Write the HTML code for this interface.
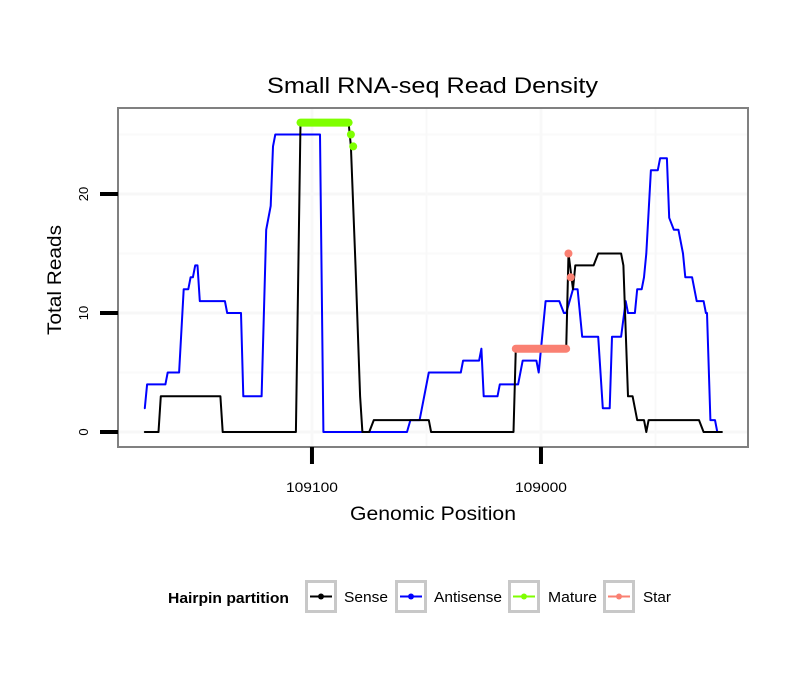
<!DOCTYPE html>
<html><head><meta charset="utf-8"><style>
body{margin:0;background:#fff;font-family:"Liberation Sans",sans-serif}
svg text{font-family:"Liberation Sans",sans-serif}
</style></head><body>
<svg id="chart" width="810" height="690">
<text x="267" y="93" font-size="22" textLength="331" lengthAdjust="spacingAndGlyphs">Small RNA-seq Read Density</text>
<rect x="118" y="108" width="630" height="339" fill="#fff"/>
<g id="grid"></g>
<g id="series"></g>
<rect x="118" y="108" width="630" height="339" fill="none" stroke="#808080" stroke-width="2"/>
<g id="axes"></g>
<text x="350" y="520" font-size="19" textLength="166" lengthAdjust="spacingAndGlyphs">Genomic Position</text>
<text transform="translate(61,335) rotate(-90)" font-size="19" textLength="110" lengthAdjust="spacingAndGlyphs">Total Reads</text>
<g>
<text x="168" y="603" font-size="15" font-weight="bold" textLength="121" lengthAdjust="spacingAndGlyphs">Hairpin partition</text>
<g><rect x="306.5" y="581.5" width="29" height="30" fill="#fff" stroke="#c8c8c8" stroke-width="3"/><line x1="310" x2="332" y1="596.5" y2="596.5" stroke="#000" stroke-width="2"/><circle cx="321" cy="596.5" r="3" fill="#000"/><text x="344" y="602" font-size="15" textLength="44" lengthAdjust="spacingAndGlyphs">Sense</text></g>
<g><rect x="396.5" y="581.5" width="29" height="30" fill="#fff" stroke="#c8c8c8" stroke-width="3"/><line x1="400" x2="422" y1="596.5" y2="596.5" stroke="#0000ff" stroke-width="2"/><circle cx="411" cy="596.5" r="3" fill="#0000ff"/><text x="434" y="602" font-size="15" textLength="68" lengthAdjust="spacingAndGlyphs">Antisense</text></g>
<g><rect x="509.5" y="581.5" width="29" height="30" fill="#fff" stroke="#c8c8c8" stroke-width="3"/><line x1="513" x2="535" y1="596.5" y2="596.5" stroke="#7fff00" stroke-width="2"/><circle cx="524" cy="596.5" r="3" fill="#7fff00"/><text x="548" y="602" font-size="15" textLength="49" lengthAdjust="spacingAndGlyphs">Mature</text></g>
<g><rect x="604.5" y="581.5" width="29" height="30" fill="#fff" stroke="#c8c8c8" stroke-width="3"/><line x1="608" x2="630" y1="596.5" y2="596.5" stroke="#fa8072" stroke-width="2"/><circle cx="619" cy="596.5" r="3" fill="#fa8072"/><text x="643" y="602" font-size="15" textLength="28" lengthAdjust="spacingAndGlyphs">Star</text></g>
</g>
</svg>
<script>
const xTicks=[109100,109000];
const xGrid=[109050,108950];
const yTicks=[0,10,20];
const yMinor=[5,15,25];
const senseX=[109173,109167,109166,109140,109139,109107,109105,109084,109083,109081,109079,109078,109075,109073,109049,109048,109012,109011,108989,108988,108986,108985,108977,108975,108965,108964,108962,108960,108958,108955,108954,108953,108931,108929,108921];
const senseY=[0,0,3,3,0,0,26,26,24,14,3,0,0,1,1,0,0,7,7,15,12,14,14,15,15,14,3,3,1,1,0,1,1,0,0];
const antiX=[109173,109172,109164,109163,109158,109156,109154,109153,109152,109151,109150,109149,109138,109137,109131,109130,109122,109120,109118,109117,109116,109096.5,109095,109058.5,109057,109053,109051,109049,109035,109034,109027,109026,109025,109019,109018,109010,109008,109002,109001,108998,108992,108990,108989,108986,108984,108982,108975,108973,108970,108969,108965,108963,108962,108959,108958,108956,108955,108954,108952,108949,108948,108945,108944,108942,108940,108938,108937,108934,108932,108929,108928,108927.5,108926,108924,108923];
const antiY=[2,4,4,5,5,12,12,13,13,14,14,11,11,10,10,3,3,17,19,24,25,25,0,0,1,1,3,5,5,6,6,7,3,3,4,4,6,6,5,11,11,10,10,12,12,8,8,2,2,8,8,11,10,10,12,12,13,15,22,22,23,23,18,17,17,15,13,13,11,11,10,10,1,1,0];
const matureX=[109105,109084,109083,109082];
const matureY=[26,26,25,24];
const starX=[109011,108989,108988,108987];
const starY=[7,7,15,13];
const ns="http://www.w3.org/2000/svg";
const X0=109184.7,X1=108909.6,PL=118,PR=748;
const sx=v=>PL+(X0-v)/(X0-X1)*(PR-PL);
const sy=v=>432-v*11.9;
function mk(tag,attrs,parent){const e=document.createElementNS(ns,tag);for(const k in attrs)e.setAttribute(k,attrs[k]);parent.appendChild(e);return e;}
const grid=document.getElementById('grid'),axes=document.getElementById('axes'),series=document.getElementById('series');
yMinor.forEach(v=>{const l=mk('line',{x1:PL,x2:PR,y1:sy(v),y2:sy(v),stroke:'#fafafa','stroke-width':2},grid);

});
yTicks.forEach(v=>{const l=mk('line',{x1:PL,x2:PR,y1:sy(v),y2:sy(v),stroke:'#f7f7f7','stroke-width':3},grid);


const t=mk('line',{x1:100,x2:118,y1:sy(v),y2:sy(v),stroke:'#000','stroke-width':4},axes);


const tx=mk('text',{transform:`translate(88,${sy(v)}) rotate(-90)`,'font-size':13,'text-anchor':'middle'},axes);tx.textContent=v;

});
xGrid.concat(xTicks).forEach((v,i)=>{const l=mk('line',{x1:sx(v),x2:sx(v),y1:108,y2:447,stroke:'#f8f8f8','stroke-width':i<2?2:3},grid);

});
xTicks.forEach(v=>{const t=mk('line',{x1:sx(v),x2:sx(v),y1:447,y2:464,stroke:'#000','stroke-width':4},axes);


const tx=mk('text',{x:sx(v),y:492,'font-size':14,'text-anchor':'middle',textLength:52,lengthAdjust:'spacingAndGlyphs'},axes);tx.textContent=v;

});
function path(xs,ys,color,w,name){const d=xs.map((x,i)=>(i?'L':'M')+sx(x).toFixed(1)+' '+sy(ys[i]).toFixed(1)).join(' ');
const p=mk('path',{d:d,fill:'none',stroke:color,'stroke-width':w,'stroke-linejoin':'round','stroke-linecap':'round'},series);

}
path(antiX,antiY,'#0000ff',2,'antisense-line');
path(senseX,senseY,'#000',2,'sense-line');
function marked(xs,ys,color,name){const d='M'+sx(xs[0])+' '+sy(ys[0])+' L'+sx(xs[1])+' '+sy(ys[1]);
const p=mk('path',{d:d,stroke:color,'stroke-width':8,'stroke-linecap':'round'},series);


for(let i=2;i<xs.length;i++){const c=mk('circle',{cx:sx(xs[i]),cy:sy(ys[i]),r:4,fill:color},series);

}}
marked(matureX,matureY,'#7fff00','mature');
marked(starX,starY,'#fa8072','star');
</script>
</body></html>
